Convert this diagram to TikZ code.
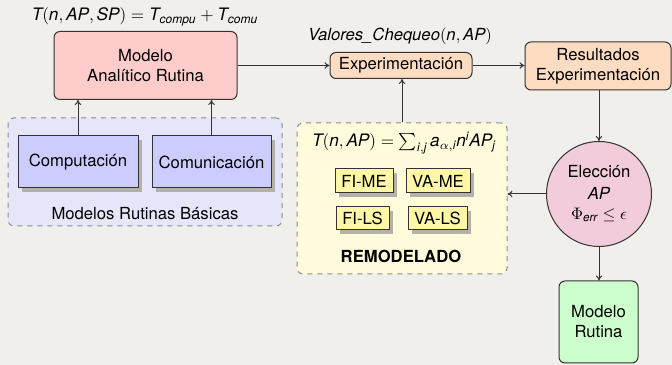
\documentclass[tikz,border=0pt]{standalone}
\usepackage{amsmath}
\usepackage{fontspec}
\setmainfont{TeX Gyre Heros}
\setsansfont{TeX Gyre Heros}
\usetikzlibrary{arrows.meta,shadows}
\newcommand\mi[1]{\textit{#1}}
\definecolor{bg}{HTML}{F0EFEB}
\definecolor{pinkb}{HTML}{FFCCCC}
\definecolor{lavg}{HTML}{E6E6FA}
\definecolor{blueb}{HTML}{CCCCFF}
\definecolor{peach}{HTML}{FEDCC2}
\definecolor{yelg}{HTML}{FFFBDB}
\definecolor{yelb}{HTML}{FFF7A8}
\definecolor{circb}{HTML}{F2CCDA}
\definecolor{greenb}{HTML}{CCFFCC}
\definecolor{edge}{HTML}{333333}
\definecolor{shad}{HTML}{B4B2A8}
\begin{document}
\begin{tikzpicture}[x=0.6pt,y=-0.6pt,
  box/.style={draw=edge,line width=0.6pt,rounded corners=3.6pt,align=center,inner sep=0pt},
  sbox/.style={draw=edge,line width=0.6pt,inner sep=0pt,align=center,
    drop shadow={shadow xshift=2.4pt,shadow yshift=-2.4pt,fill=shad,opacity=1}},
  grp/.style={draw=black!45,dashed,line width=0.6pt,rounded corners=3.6pt,inner sep=0pt},
  conn/.style={draw=edge,line width=0.6pt,-{To[length=3pt,width=4pt]}},
  txt/.style={inner sep=0pt}]
\fill[bg] (0,0) rectangle (672,365);
\useasboundingbox (0,0) rectangle (672,365);

% group boxes
\node[grp,fill=lavg,minimum width=164.4pt,minimum height=64.8pt] (grp) at (145,172) {};
\node[grp,fill=yelg,minimum width=126pt,minimum height=90.6pt] (rem) at (402,198.5) {};

% nodes
\node[box,fill=pinkb,minimum width=109.8pt,minimum height=40.8pt] (mod) at (145.5,65.5) {Modelo\\Analítico Rutina};
\node[txt,scale=1.03] (fT) at (145,17) {$\mi{T}(\mi{n},\mi{AP},\mi{SP}) = \mi{T}_{\mi{compu}} + \mi{T}_{\mi{comu}}$};
\node[sbox,fill=blueb,minimum width=72pt,minimum height=31.2pt] (comp) at (78,162) {Computación};
\node[sbox,fill=blueb,minimum width=71.4pt,minimum height=31.2pt] (comu) at (211.5,162) {Comunicación};
\node[txt] (lgrp) at (145,214) {Modelos Rutinas Básicas};

\node[box,fill=peach,minimum width=85.2pt,minimum height=15.6pt] (exp) at (401,65.5) {Experimentación};
\node[txt] (fV) at (400,36) {\mi{Valores\_Chequeo}$(\mi{n},\mi{AP})$};
\node[box,fill=peach,minimum width=87.6pt,minimum height=28.8pt] (res) at (598,66) {Resultados\\Experimentación};

\node[draw=edge,line width=0.6pt,circle,fill=circb,minimum size=63pt,inner sep=0pt] (circ) at (599,194) {};
\node[txt] (c1) at (599,172) {Elección};
\node[txt] (c2) at (599,193) {\mi{AP}};
\node[txt] (c3) at (599,215) {$\Phi_{\mi{err}} \leq \epsilon$};

\node[txt,scale=1.03] (fR) at (404,143) {$\mi{T}(\mi{n},\mi{AP}) = \sum_{\mi{i},\mi{j}} \mi{a}_{\alpha,\mi{i}}\mi{n}^{\mi{i}}\mi{AP}_{\mi{j}}$};
\node[sbox,fill=yelb,minimum width=34.8pt,minimum height=14.4pt] (fime) at (364,181) {FI-ME};
\node[sbox,fill=yelb,minimum width=38.4pt,minimum height=14.4pt] (vame) at (438,181) {VA-ME};
\node[sbox,fill=yelb,minimum width=31.8pt,minimum height=13.8pt] (fils) at (362.5,218.5) {FI-LS};
\node[sbox,fill=yelb,minimum width=35.4pt,minimum height=13.8pt] (vals) at (437.5,218.5) {VA-LS};
\node[txt,font=\bfseries] (lrem) at (401,256) {REMODELADO};

\node[box,fill=greenb,minimum width=47.4pt,minimum height=49.2pt] (mr) at (598.5,322) {Modelo\\Rutina};

% connectors
\draw[conn] (comp.north) -- (comp.north |- mod.south);
\draw[conn] (comu.north) -- (comu.north |- mod.south);
\draw[conn] (mod.east) -- (exp.west);
\draw[conn] (exp.east) -- (exp.east -| res.west);
\draw[conn] (rem.north) -- (rem.north |- exp.south);
\draw[conn] (res.south -| circ.north) -- (circ.north);
\draw[conn] (circ.west) -- (circ.west -| rem.east);
\draw[conn] (circ.south) -- (circ.south |- mr.north);
\end{tikzpicture}
\end{document}
